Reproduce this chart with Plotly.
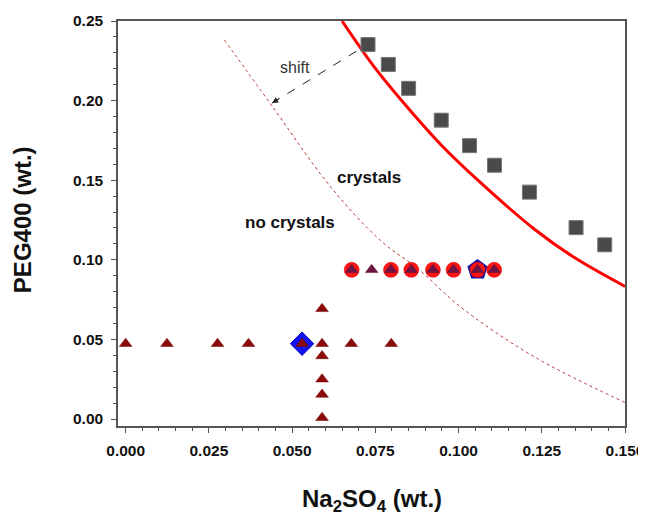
import plotly.graph_objects as go

# ---- data ----
sq_x = [0.0728, 0.0789, 0.0850, 0.0948, 0.1033, 0.1108, 0.1213, 0.1353, 0.1439]
sq_y = [0.2352, 0.2227, 0.2077, 0.1877, 0.1717, 0.1594, 0.1425, 0.1202, 0.1094]

fit_x = [0.0650, 0.0746, 0.0836, 0.0947, 0.1067, 0.1228, 0.1348, 0.1500]
fit_y = [0.2500, 0.2213, 0.1983, 0.1723, 0.1483, 0.1192, 0.1014, 0.0833]

shift_x = [0.0297, 0.0435, 0.0615, 0.0766, 0.0880, 0.1007, 0.1228, 0.1500]
shift_y = [0.2380, 0.1980, 0.1460, 0.1120, 0.0940, 0.0702, 0.0390, 0.0104]

tri_x = [0.000, 0.0124, 0.0276, 0.0369, 0.0530, 0.0590, 0.0678, 0.0798,
         0.0590, 0.0590, 0.0590, 0.0590, 0.0590]
tri_y = [0.0473, 0.0473, 0.0473, 0.0473, 0.0473, 0.0473, 0.0473, 0.0473,
         0.0692, 0.0396, 0.0250, 0.0154, 0.0008]

row_x = [0.0679, 0.0739, 0.0797, 0.0858, 0.0923, 0.0985, 0.1057, 0.1107]
row_y = [0.0937, 0.0937, 0.0937, 0.0937, 0.0937, 0.0937, 0.0937, 0.0937]

circ_x = [0.0679, 0.0797, 0.0858, 0.0923, 0.0985, 0.1057, 0.1107]
circ_y = [0.0937, 0.0937, 0.0937, 0.0937, 0.0937, 0.0937, 0.0937]

diamond_x = [0.0530]
diamond_y = [0.0473]
penta_x = [0.1057]
penta_y = [0.0937]

arrow_x = [0.0693, 0.0440]
arrow_y = [0.2310, 0.1985]

fig = go.Figure()

fig.add_trace(go.Scatter(x=shift_x, y=shift_y, mode="lines", line_shape="spline",
                         line=dict(color="#B83A3A", width=1, dash="dot")))
fig.add_trace(go.Scatter(x=fit_x, y=fit_y, mode="lines", line_shape="spline",
                         line=dict(color="#FF0000", width=3)))
fig.add_trace(go.Scatter(x=arrow_x, y=arrow_y, mode="lines",
                         line=dict(color="#222222", width=1, dash="dash")))
fig.add_trace(go.Scatter(x=sq_x, y=sq_y, mode="markers",
                         marker=dict(symbol="square", size=14, color="#4A4A4A",
                                     line=dict(color="#777777", width=1))))
fig.add_trace(go.Scatter(x=diamond_x, y=diamond_y, mode="markers",
                         marker=dict(symbol="diamond", size=18, color="#1414F0",
                                     line=dict(color="#0000C0", width=1))))
fig.add_trace(go.Scatter(x=penta_x, y=penta_y, mode="markers",
                         marker=dict(symbol="pentagon", size=19, color="#FF1010",
                                     line=dict(color="#1010B0", width=2))))
fig.add_trace(go.Scatter(x=circ_x, y=circ_y, mode="markers",
                         marker=dict(symbol="circle", size=15, color="#FF1414",
                                     line=dict(color="#E00000", width=0.5))))
fig.add_trace(go.Scatter(x=row_x, y=row_y, mode="markers",
                         marker=dict(symbol="triangle-up", size=11, color="#6E1545",
                                     line=dict(color="#5A1038", width=0.5))))
fig.add_trace(go.Scatter(x=tri_x, y=tri_y, mode="markers",
                         marker=dict(symbol="triangle-up", size=11, color="#8B0A0A",
                                     line=dict(color="#700000", width=0.5))))

fig.add_annotation(x=arrow_x[1], y=arrow_y[1], ax=arrow_x[1] + 0.0025, ay=arrow_y[1] + 0.0032,
                   xref="x", yref="y", axref="x", ayref="y", text="", showarrow=True,
                   arrowhead=2, arrowsize=1.2, arrowwidth=1, arrowcolor="#222222")

txt_font = dict(family="Liberation Sans, Arial", color="#111111")
fig.add_annotation(x=0.051, y=0.221, text="shift", showarrow=False,
                   font=dict(family="Liberation Sans, Arial", size=16, color="#333333"))
fig.add_annotation(x=0.0495, y=0.1233, text="no crystals", showarrow=False,
                   font=dict(size=17, weight="bold", **txt_font))
fig.add_annotation(x=0.0731, y=0.152, text="crystals", showarrow=False,
                   font=dict(size=17, weight="bold", **txt_font))

# axis titles
fig.add_annotation(xref="paper", yref="paper", x=0.5, y=-0.183, xanchor="center", yanchor="middle",
                   text="Na<sub>2</sub>SO<sub>4</sub> (wt.)",
                   showarrow=False, font=dict(size=24, weight="bold", **txt_font))
fig.add_annotation(xref="paper", yref="paper", x=-0.188, y=0.51, xanchor="center", yanchor="middle",
                   text="PEG400 (wt.)", textangle=-90,
                   showarrow=False, font=dict(size=24, weight="bold", **txt_font))

axis_common = dict(showline=True, linecolor="#555555", linewidth=1.5, mirror=True,
                   ticks="outside", ticklen=5, tickwidth=1.3, tickcolor="#555555",
                   showgrid=False, zeroline=False, ticklabelstandoff=5,
                   tickfont=dict(family="Liberation Sans, Arial", size=15.5, weight="bold", color="#111111"))

fig.update_xaxes(range=[-0.0023, 0.150], dtick=0.025, tick0=0, tickformat=".3f",
                 minor=dict(dtick=0.005, ticks="outside", ticklen=3, tickcolor="#555555"),
                 **axis_common)
fig.update_yaxes(range=[-0.0044, 0.25], dtick=0.05, tick0=0, tickformat=".2f",
                 minor=dict(dtick=0.01, ticks="outside", ticklen=3, tickcolor="#555555"),
                 **axis_common)

# the page body adds an 8 px offset, so the figure is sized to fit the window
fig.update_layout(width=638, height=507, showlegend=False,
                  margin=dict(l=110, r=21, t=13, b=89, autoexpand=False),
                  plot_bgcolor="white", paper_bgcolor="white")

fig.write_html("out.html")
